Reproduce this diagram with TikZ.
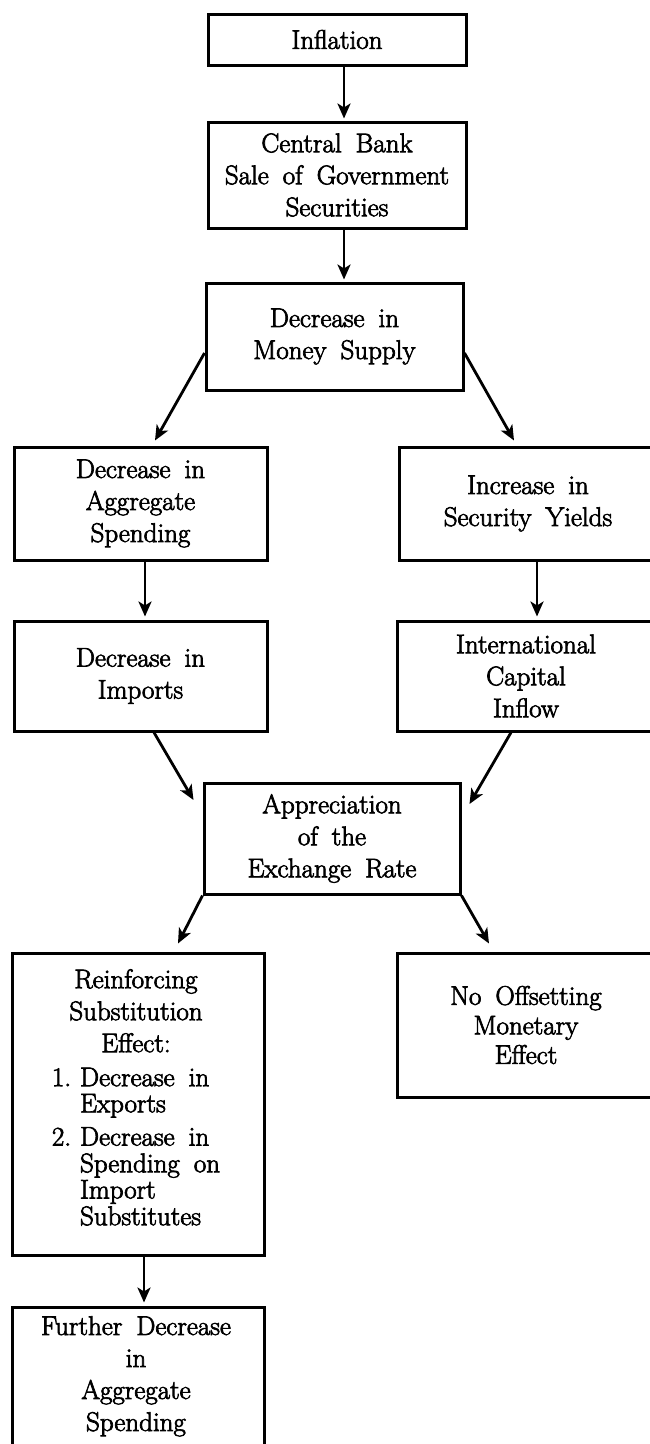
\documentclass[tikz,border=0pt]{standalone}
\usepackage{fontspec}
\setmainfont{Latin Modern Roman}[FakeBold=2.6]
\usetikzlibrary{arrows.meta}
\newcommand\bxfont{\fontsize{27}{32}\selectfont\spaceskip=14pt plus 2pt minus 3pt\relax}
\newcommand\bxfonttight{\fontsize{27}{29.5}\selectfont\spaceskip=14pt plus 2pt minus 3pt\relax}
\begin{document}
\begin{tikzpicture}[x=1pt,y=-1pt,
  box/.style={draw, line width=3pt, inner sep=0pt, align=center, font=\bxfont},
  txt/.style={inner sep=0pt, align=center, font=\bxfont},
  arr/.style={line width=2.8pt, -{Stealth[length=15pt,width=13pt,inset=4pt]}}]
\useasboundingbox (0,0) rectangle (650,1444);
% boxes
\node[box, minimum width=258, minimum height=51]  (infl) at (337,39.5) {Inflation};
\node[box, minimum width=258, minimum height=106] (cb)   at (337,175) {Central Bank\\Sale of Government\\Securities};
\node[box, minimum width=257, minimum height=107] (ms)   at (334.5,336.5) {Decrease in\\Money Supply};
\node[box, minimum width=253, minimum height=113] (das)  at (140.5,503.5) {Decrease in\\Aggregate\\Spending};
\node[box, minimum width=258, minimum height=113] (sy)   at (528,503.5) {Increase in\\Security Yields};
\node[box, minimum width=253, minimum height=110] (imp)  at (140.5,676) {Decrease in\\Imports};
\node[box, minimum width=258, minimum height=110] (cap)  at (526,676) {International\\Capital\\Inflow};
\node[box, minimum width=256, minimum height=111] (appr) at (332,838.5) {Appreciation\\of the\\Exchange Rate};
\node[box, minimum width=252, minimum height=302] (reinf) at (138,1104) {};
\node[box, minimum width=258, minimum height=144, font=\bxfonttight] (noff) at (526,1025) {No Offsetting\\Monetary\\Effect};
\node[box, minimum width=252, minimum height=162] (fur)  at (138,1388) {};
% texts placed from the top of tall boxes
\node[txt, anchor=north] (reinft) at (136,969) {Reinforcing\\Substitution\\Effect:\\[2pt]%
  {\renewcommand\arraystretch{0.8125}\begin{tabular}[t]{@{}r@{\hspace{9pt}}l@{}}1.&Decrease in\\&Exports\\[7pt]2.&Decrease in\\&Spending on\\&Import\\&Substitutes\end{tabular}}};
\node[txt, anchor=north] (furt) at (136,1316) {Further Decrease\\in\\Aggregate\\Spending};
% connectors
\draw[arr] ([xshift=7pt]infl.south) -- ([xshift=7pt,yshift=2pt]cb.north);
\draw[arr] ([xshift=7pt]cb.south) -- ([xshift=9.5pt,yshift=2pt]ms.north);
\draw[arr] ([yshift=-16.5pt]ms.west) -- ([xshift=14.5pt,yshift=5pt]das.north);
\draw[arr] ([yshift=-16.5pt]ms.east) -- ([xshift=-14pt,yshift=5pt]sy.north);
\draw[arr] ([xshift=4.5pt]das.south) -- ([xshift=4.5pt,yshift=3pt]imp.north);
\draw[arr] ([xshift=9pt]sy.south) -- ([xshift=11pt,yshift=3pt]cap.north);
\draw[arr] ([xshift=13.5pt]imp.south) -- ([xshift=-9pt,yshift=38.5pt]appr.west);
\draw[arr] ([xshift=-15pt]cap.south) -- ([xshift=8pt,yshift=34.5pt]appr.east);
\draw[arr] (appr.south west) -- ([xshift=40pt,yshift=8pt]reinf.north);
\draw[arr] (appr.south east) -- ([xshift=-37pt,yshift=8pt]noff.north);
\draw[arr] ([xshift=6pt]reinf.south) -- ([xshift=6pt,yshift=3pt]fur.north);
\end{tikzpicture}
\end{document}
